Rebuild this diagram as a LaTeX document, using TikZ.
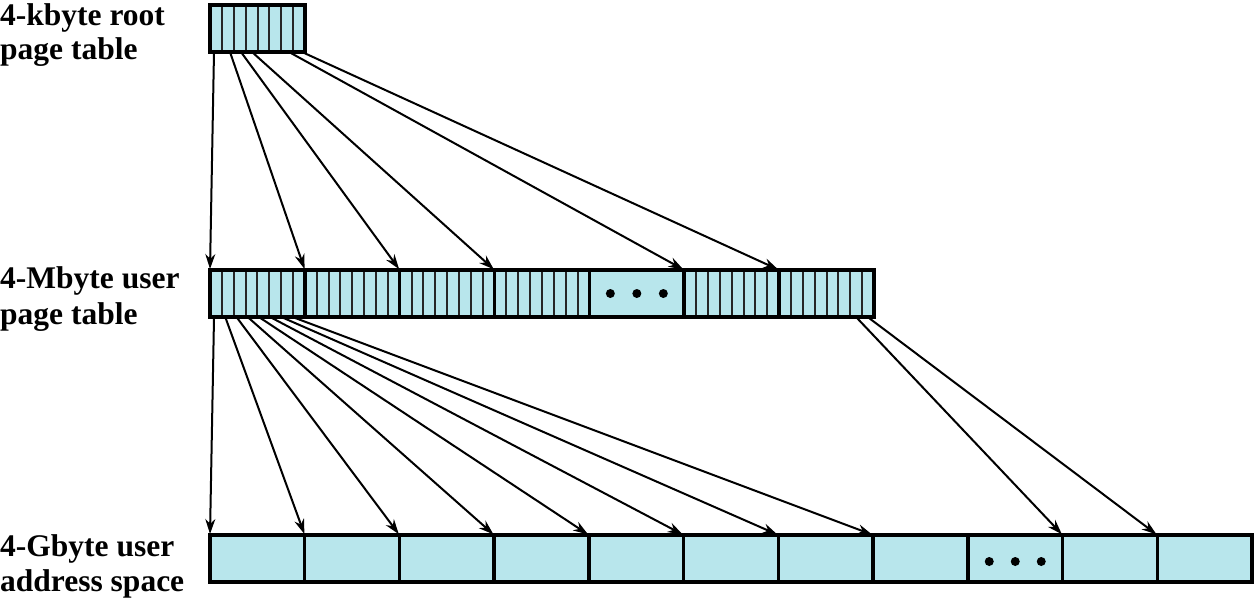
\documentclass[tikz,border=0pt]{standalone}
\usepackage{fontspec}
\setmainfont{Liberation Serif}
\usetikzlibrary{arrows.meta,calc}
\definecolor{cellfill}{RGB}{184,230,236}
\begin{document}
\begin{tikzpicture}[x=1pt,y=-1pt,
  blk/.style={draw=black, line width=3.5pt, fill=cellfill, minimum width=94.8pt, minimum height=47pt, inner sep=0pt, outer sep=0pt, anchor=north west},
  slotline/.style={draw=black!85, line width=2pt},
  ptr/.style={-{Stealth[length=15pt,width=10pt]}, line width=2pt, shorten >=1pt},
  dotmark/.style={fill=black},
  lbl/.style={font=\bfseries\fontsize{31.5}{35}\selectfont, anchor=base west, inner sep=0pt}]
\useasboundingbox (0,0) rectangle (1255,597);

% labels
\node[lbl] (l1a) at (0,25) {4-kbyte root};
\node[lbl] (l1b) at (0,59) {page table};
\node[lbl] (l2a) at (0,288) {4-Mbyte user};
\node[lbl] (l2b) at (0,324) {page table};
\node[lbl] (l3a) at (0,556) {4-Gbyte user};
\node[lbl] (l3b) at (0,591) {address space};

% root page table
\node[blk, minimum width=95pt] (root) at (210,5) {};
\foreach \k in {1,...,7}
  \draw[slotline] ($(root.north west)+(\k*95/8,0)$) -- ($(root.south west)+(\k*95/8,0)$);
\draw[black, line width=3.5pt] (root.north west) rectangle (root.south east);

% user page table
\foreach \i in {1,...,7}{
  \node[blk] (pt\i) at ({210+(\i-1)*94.86},270) {};
}
\foreach \i in {1,2,3,4,6,7}{
  \foreach \k in {1,...,7}
    \draw[slotline] ($(pt\i.north west)+(\k*94.86/8,0)$) -- ($(pt\i.south west)+(\k*94.86/8,0)$);
}
\foreach \i in {1,...,7}
  \draw[black, line width=3.5pt] (pt\i.north west) rectangle (pt\i.south east);
\foreach \d in {-26.5,0,26.5}
  \fill[dotmark] ($(pt5.center)+(\d,0)$) circle (4.5pt);

% address space
\foreach \i in {1,...,11}{
  \node[blk] (as\i) at ({210+(\i-1)*94.73},535) {};
}
\foreach \d in {-26,0,26}
  \fill[dotmark] ($(as9.center)+(\d,3)$) circle (4.5pt);

% sources
\coordinate (r0) at (214,52);
\coordinate (r1) at (230,52);
\coordinate (r2) at (241,52);
\coordinate (r3) at (252,52);
\coordinate (r6) at (289,52);
\coordinate (r7) at (302,52);

\draw[ptr] (r0) -- (pt1.north west);
\draw[ptr] (r1) -- (pt2.north west);
\draw[ptr] (r2) -- (pt3.north west);
\draw[ptr] (r3) -- (pt4.north west);
\draw[ptr] (r6) -- (pt6.north west);
\draw[ptr] (r7) -- (pt7.north west);

\foreach \k in {0,...,7}{
  \coordinate (p\k) at ({214+\k*11.6},318);
}
\foreach \k [evaluate=\k as \j using int(\k+1)] in {0,...,7}
  \draw[ptr] (p\k) -- (as\j.north west);

\coordinate (q6) at (857,318);
\coordinate (q7) at (869,318);
\draw[ptr] (q6) -- (as10.north west);
\draw[ptr] (q7) -- (as11.north west);
\end{tikzpicture}
\end{document}
